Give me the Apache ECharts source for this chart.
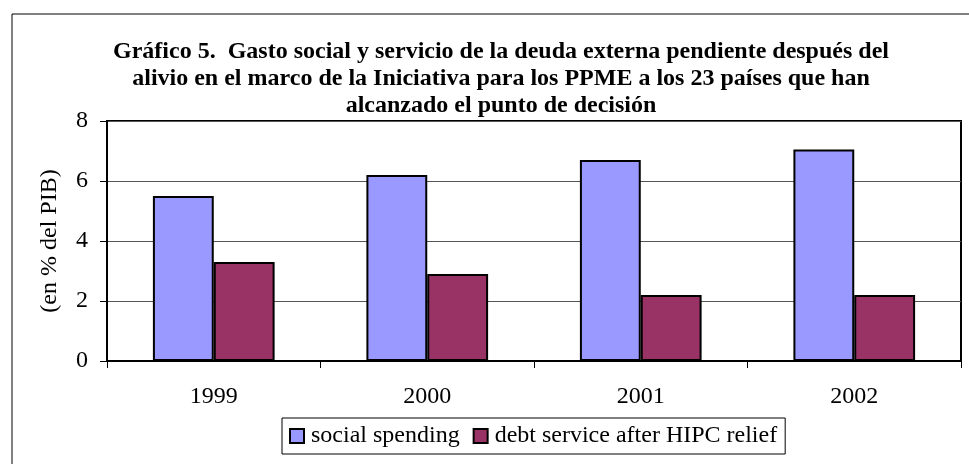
<!DOCTYPE html>
<html><head><meta charset="utf-8">
<script src="https://cdn.jsdelivr.net/npm/echarts@6/dist/echarts.min.js"></script>
<style>html,body{margin:0;padding:0;background:#fff}#c{width:969px;height:464px}</style>
</head><body><div id="c"></div>
<script>
const titleText = "Gráfico 5.  Gasto social y servicio de la deuda externa pendiente después del\nalivio en el marco de la Iniciativa para los PPME a los 23 países que han\nalcanzado el punto de decisión";
const categories = ["1999", "2000", "2001", "2002"];
const socialSpending = [5.5, 6.2, 6.7, 7.05];
const debtService = [3.3, 2.9, 2.2, 2.2];
const seriesNames = ["social spending", "debt service after HIPC relief"];
const yAxisName = "(en % del PIB)";

const chart = echarts.init(document.getElementById('c'), null, {renderer: 'canvas'});
const serif = "'Liberation Serif','Times New Roman',serif";
chart.setOption({
  animation: false,
  backgroundColor: '#fff',
  textStyle: {fontFamily: serif},
  title: {
    text: titleText,
    left: 496, top: 33, textAlign: 'center',
    textStyle: {fontFamily: serif, fontSize: 24, fontWeight: 'bold', color: '#000', lineHeight: 27}
  },
  graphic: [{
    type: 'rect', left: 9.5, top: 11.5, silent: true,
    shape: {width: 1000, height: 500},
    style: {fill: 'none', stroke: '#000', lineWidth: 1}
  }],
  grid: {left: 107, right: 8, top: 121, bottom: 103, show: true, borderColor: '#000', borderWidth: 2, backgroundColor: 'transparent'},
  legend: {
    data: seriesNames,
    top: 418, left: 282,
    itemWidth: 14, itemHeight: 14, itemGap: 13,
    padding: [6, 8, 6, 7],
    borderColor: '#000', borderWidth: 1,
    textStyle: {fontFamily: serif, fontSize: 24, color: '#000', padding: [0, 0, 0, 2]},
    icon: 'rect',
    itemStyle: {borderColor: '#000', borderWidth: 2}
  },
  xAxis: {
    type: 'category', data: categories,
    axisLine: {lineStyle: {color: '#000', width: 2}},
    axisTick: {show: true, length: 7, lineStyle: {color: '#000'}},
    axisLabel: {fontFamily: serif, fontSize: 24, color: '#000', margin: 24}
  },
  yAxis: {
    type: 'value', min: 0, max: 8, interval: 2,
    name: yAxisName, nameLocation: 'middle', nameGap: 45,
    nameTextStyle: {fontFamily: serif, fontSize: 24, color: '#000'},
    axisLine: {show: true, lineStyle: {color: '#000', width: 2}},
    axisTick: {show: true, length: 7, lineStyle: {color: '#000'}},
    axisLabel: {fontFamily: serif, fontSize: 24, color: '#000', margin: 19},
    splitLine: {lineStyle: {color: '#555', width: 1}}
  },
  series: [
    {name: seriesNames[0], type: 'bar', data: socialSpending, barGap: '0%', barCategoryGap: '43%',
     itemStyle: {color: '#9999ff', borderColor: '#000', borderWidth: 2}},
    {name: seriesNames[1], type: 'bar', data: debtService,
     itemStyle: {color: '#993366', borderColor: '#000', borderWidth: 2}}
  ]
});
</script></body></html>
